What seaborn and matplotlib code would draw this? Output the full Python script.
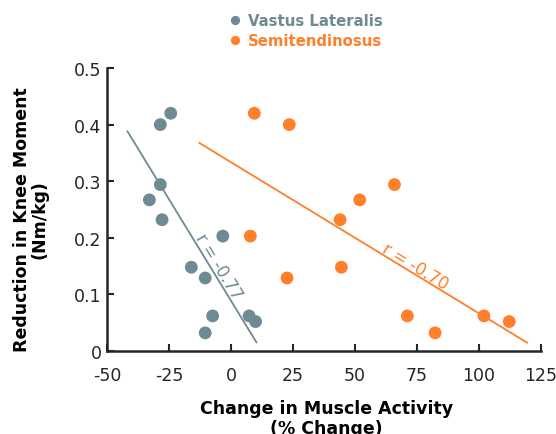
import numpy as np
import pandas as pd
import matplotlib
matplotlib.use("Agg")
import matplotlib.pyplot as plt
import seaborn as sns

# Reduction in knee moment (Nm/kg) per participant
moment_reduction = [0.420, 0.400, 0.294, 0.267, 0.232, 0.203, 0.148, 0.129, 0.062, 0.032, 0.062, 0.052]

# Change in muscle activity (% change) for each muscle
vl_change = [-24.3, -28.5, -28.5, -32.9, -27.8, -3.3, -16.0, -10.4, -7.4, -10.4, 7.3, 9.9]
st_change = [9.4, 23.5, 65.9, 51.9, 44.0, 7.8, 44.5, 22.6, 71.1, 82.3, 102.0, 112.2]

muscles = ["Vastus Lateralis", "Semitendinosus"]
colors = {"Vastus Lateralis": "#6e8a92", "Semitendinosus": "#ff7f2a"}

# x-extent of each fitted regression line
fit_span = {"Vastus Lateralis": (-41.8, 10.3), "Semitendinosus": (-12.8, 119.5)}
r_labels = {"Vastus Lateralis": "r = -0.77", "Semitendinosus": "r = -0.70"}
r_label_pos = {"Vastus Lateralis": (-5.1, 0.151), "Semitendinosus": (74.2, 0.151)}

x_ticks = [-50, -25, 0, 25, 50, 75, 100, 125]
y_ticks = [0, 0.1, 0.2, 0.3, 0.4, 0.5]
y_ticklabels = ["0", "0.1", "0.2", "0.3", "0.4", "0.5"]

df = pd.DataFrame({
    "change": vl_change + st_change,
    "reduction": moment_reduction * 2,
    "muscle": [muscles[0]] * len(vl_change) + [muscles[1]] * len(st_change),
})

sns.set_theme(style="white")
plt.rcParams["font.family"] = ["DejaVu Sans"]
plt.rcParams["axes.unicode_minus"] = False

W, H = 556, 435
fig = plt.figure(figsize=(W / 100, H / 100), dpi=100)
ax = fig.add_axes([107 / W, 1 - 352 / H, (541 - 107) / W, (352 - 69) / H])

sns.scatterplot(data=df, x="change", y="reduction", hue="muscle", hue_order=muscles,
                palette=colors, s=85, linewidth=0, ax=ax, zorder=3, legend=True)

ax.set_xlim(-50, 125)
ax.set_ylim(0, 0.5)

for m in muscles:
    sub = df[df["muscle"] == m]
    slope, intercept = np.polyfit(sub["change"], sub["reduction"], 1)
    xs = np.array(fit_span[m])
    ax.plot(xs, slope * xs + intercept, color=colors[m], lw=1.3, zorder=2)
    angle = np.degrees(np.arctan(slope))
    tx, ty = r_label_pos[m]
    ax.text(tx, ty, r_labels[m], color=colors[m], fontsize=12, ha="center", va="center",
            rotation=angle, rotation_mode="anchor", transform_rotates_text=True)

ax.set_xticks(x_ticks)
ax.set_xticklabels([str(t) for t in x_ticks])
ax.set_yticks(y_ticks)
ax.set_yticklabels(y_ticklabels)
ax.tick_params(axis="both", direction="in", length=5, width=1.5, labelsize=12.5,
               labelcolor="#262626", color="#262626", bottom=True, left=True)
ax.tick_params(axis="x", pad=11)
ax.tick_params(axis="y", pad=4)

for side in ["top", "right"]:
    ax.spines[side].set_visible(False)
for side in ["left", "bottom"]:
    ax.spines[side].set_color("#262626")
    ax.spines[side].set_linewidth(1.8)

ax.set_xlabel("Change in Muscle Activity\n(% Change)", fontsize=12.5, fontweight="bold",
              color="black", linespacing=1.15)
ax.xaxis.set_label_coords(0.506, (352 - 419) / 283)
ax.xaxis.label.set_verticalalignment("center")

ax.set_ylabel("Reduction in Knee Moment\n(Nm/kg)", fontsize=12.5, fontweight="bold",
              color="black", linespacing=1.0)
ax.yaxis.set_label_coords((31 - 107) / 434, (352 - 220) / 283)
ax.yaxis.label.set_verticalalignment("center")

leg = ax.legend(loc="upper left", bbox_to_anchor=(227.5 / W, 1 - 14.5 / H),
                bbox_transform=fig.transFigure, frameon=False, fontsize=10.7,
                handlelength=1.0, handletextpad=0.37, borderpad=0, borderaxespad=0,
                labelspacing=0.32, markerscale=0.72, title=None)
for txt, m in zip(leg.get_texts(), muscles):
    txt.set_color(colors[m])
    txt.set_fontweight("bold")

fig.savefig("out.png", dpi=100)
